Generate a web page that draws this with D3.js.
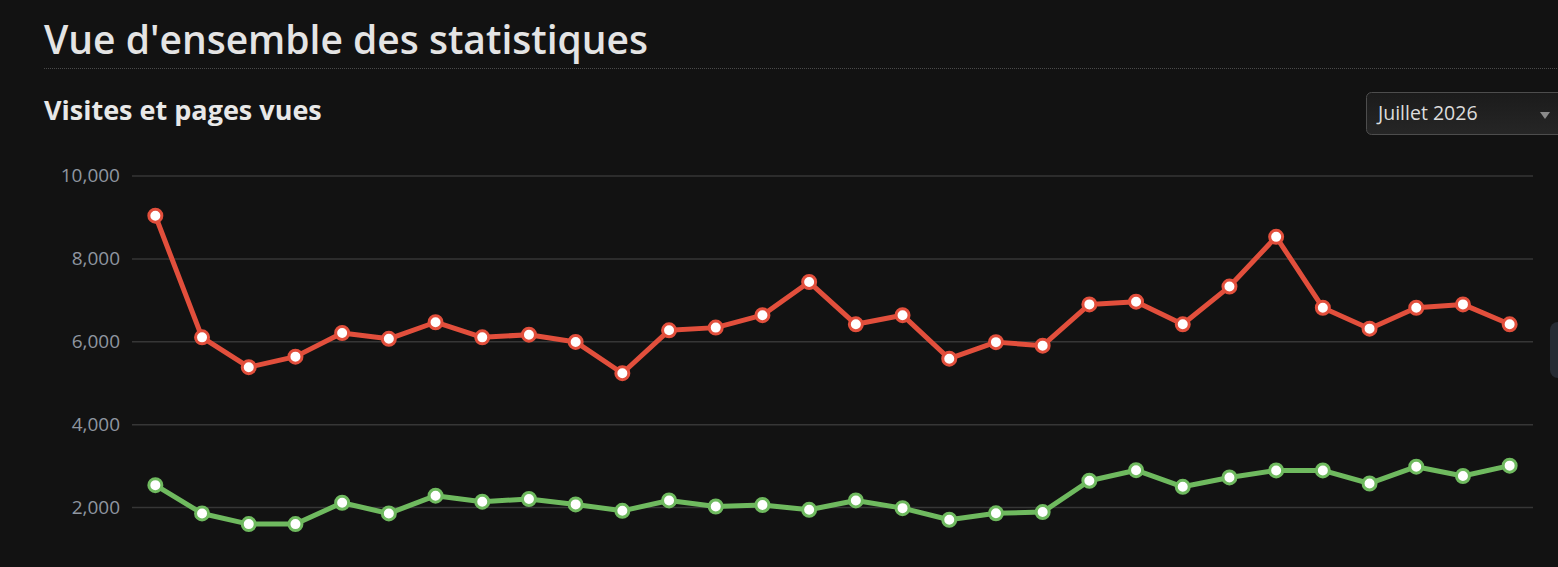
<!DOCTYPE html>
<html><head><meta charset="utf-8">
<script src="https://cdn.jsdelivr.net/npm/d3@7"></script>
<style>
html,body{margin:0;padding:0;background:#121212;overflow:hidden;}
svg{display:block;font-family:"Open Sans",sans-serif;}
</style></head>
<body>
<svg id="c" width="1558" height="567"></svg>
<script>
const title = "Vue d'ensemble des statistiques";
const subtitle = "Visites et pages vues";
const monthLabel = "Juillet 2026";
const days = d3.range(1, 31).map(String);
const pageViews = [9030,6095,5375,5630,6200,6060,6460,6095,6160,5985,5230,6265,6330,6630,7430,6410,6630,5580,5980,5895,6890,6955,6410,7320,8520,6810,6305,6810,6890,6410];
const visits = [2530,1847,1590,1590,2105,1847,2275,2130,2195,2065,1910,2160,2015,2050,1935,2160,1975,1695,1850,1880,2635,2890,2490,2715,2885,2885,2570,2975,2750,3000];
const yTicks = [2000,4000,6000,8000,10000];

const svg = d3.select("#c");
const W = 1558, H = 567;

// Header
svg.append("text").attr("x",44).attr("y",54).attr("fill","#e4e4e4")
  .attr("font-size",39).attr("font-weight",600).text(title);
svg.append("line").attr("x1",44).attr("x2",W).attr("y1",68.5).attr("y2",68.5)
  .attr("stroke","#4a4a4a").attr("stroke-width",1).attr("stroke-dasharray","1,1");
svg.append("text").attr("x",44).attr("y",120).attr("fill","#e8e8e8")
  .attr("font-size",27).attr("font-weight",700).text(subtitle);

// Dropdown
const grad = svg.append("defs").append("linearGradient").attr("id","dd").attr("x1",0).attr("x2",0).attr("y1",0).attr("y2",1);
grad.append("stop").attr("offset","0%").attr("stop-color","#1b1b1b");
grad.append("stop").attr("offset","100%").attr("stop-color","#262626");
svg.append("rect").attr("x",1366.5).attr("y",92.5).attr("width",210).attr("height",42).attr("rx",5)
  .attr("fill","url(#dd)").attr("stroke","#4d4d4d");
svg.append("text").attr("x",1378).attr("y",120).attr("fill","#dcdcdc").attr("font-size",19.5).text(monthLabel);
svg.append("path").attr("d","M1540,112 L1550,112 L1545,119 Z").attr("fill","#8a8a8a");

// side tab
svg.append("rect").attr("x",1550).attr("y",322).attr("width",20).attr("height",56).attr("rx",8).attr("fill","#262b33");

// Scales
const x = d3.scaleBand().domain(days).range([132,1533]);
const y = d3.scaleLinear().domain([0,10000]).range([590,175.5]);

// grid
const yAxis = d3.axisLeft(y).tickValues(yTicks).tickSize(-(1533-132)).tickPadding(12)
  .tickFormat(d3.format(","));
const g = svg.append("g").attr("transform","translate(132,0)").call(yAxis);
g.select(".domain").remove();
g.selectAll(".tick line").attr("stroke","#363636").attr("stroke-width",1.5);
g.selectAll(".tick text").attr("fill","#8f96a0").attr("font-size",19).attr("font-family","'Open Sans',sans-serif");

function series(data, color){
  const cx = (d,i)=> x(days[i]) + x.bandwidth()/2;
  const line = d3.line().x(cx).y(d=>y(d));
  svg.append("path").datum(data).attr("d",line).attr("fill","none")
    .attr("stroke",color).attr("stroke-width",5).attr("stroke-linejoin","round");
  svg.append("g").selectAll("circle").data(data).join("circle")
    .attr("cx",cx).attr("cy",d=>y(d)).attr("r",6.5)
    .attr("fill","#ffffff").attr("stroke",color).attr("stroke-width",3);
}
series(visits, "#6fba5f");
series(pageViews, "#e24f3c");
</script>
</body></html>
